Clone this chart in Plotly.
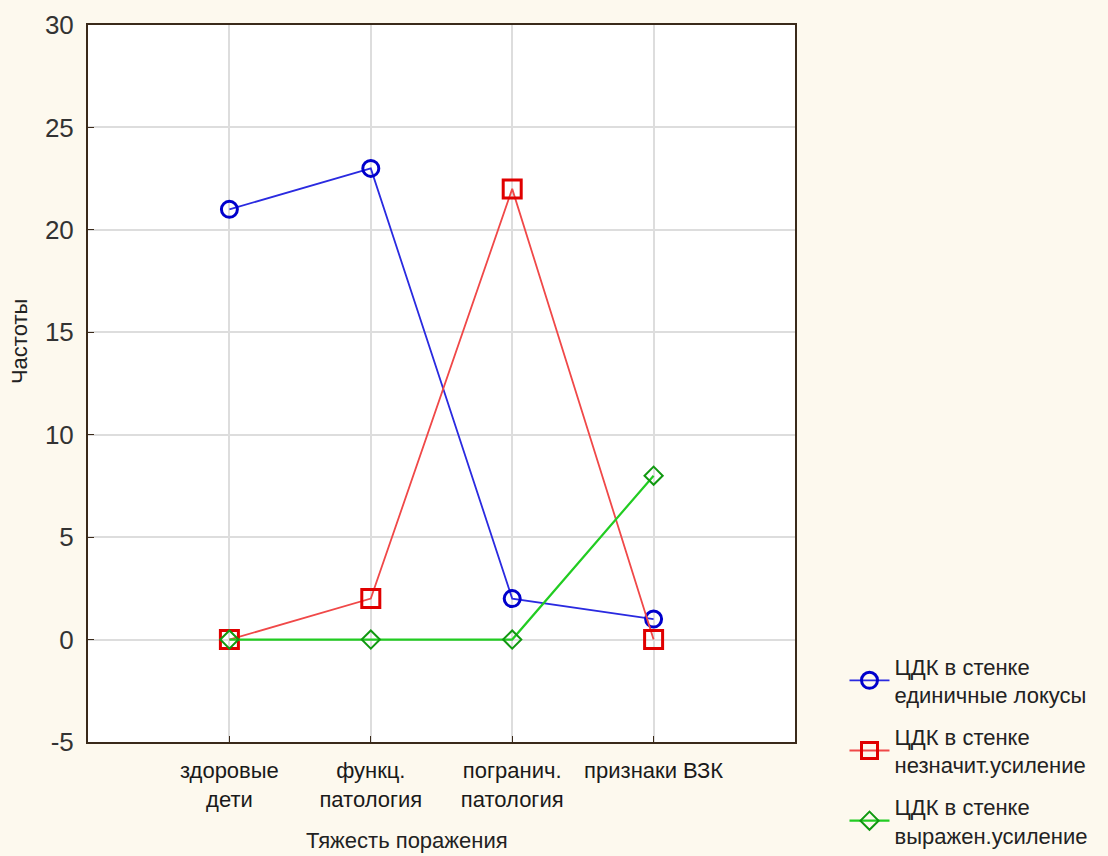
import plotly.graph_objects as go

categories = ["здоровые<br>дети", "функц.<br>патология", "погранич.<br>патология", "признаки ВЗК"]
x_pos = [0, 1, 2, 3]
blue_vals = [21, 23, 2, 1]
red_vals = [0, 2, 22, 0]
green_vals = [0, 0, 0, 8]
names = ["ЦДК в стенке<br>единичные локусы", "ЦДК в стенке<br>незначит.усиление", "ЦДК в стенке<br>выражен.усиление"]
y_ticks = [-5, 0, 5, 10, 15, 20, 25, 30]
y_labels = ["-5", "0", "5", "10", "15", "20", "25", "30"]
x_title = "Тяжесть поражения"
y_title = "Частоты"

FONT = "Arial, Liberation Sans, sans-serif"

fig = go.Figure()
fig.add_trace(go.Scatter(x=x_pos, y=blue_vals, name=names[0], mode="lines+markers",
                         line=dict(color="#2a2ae0", width=1.8), legendgroup="a",
                         marker=dict(symbol="circle-open", size=16, color="#0000cc", line=dict(width=3, color="#0000cc"))))
fig.add_trace(go.Scatter(x=x_pos, y=red_vals, name=names[1], mode="lines+markers",
                         line=dict(color="#f04848", width=1.8), legendgroup="b",
                         marker=dict(symbol="square-open", size=18, color="#e00000", line=dict(width=3, color="#e00000"))))
fig.add_trace(go.Scatter(x=x_pos, y=green_vals, name=names[2], mode="lines+markers",
                         line=dict(color="#22cc22", width=2.2), legendgroup="c",
                         marker=dict(symbol="diamond-open", size=14, color="#119911", line=dict(width=2, color="#119911"))))

fig.update_layout(
    width=1108, height=856,
    paper_bgcolor="#fdf9ee", plot_bgcolor="white",
    margin=dict(l=88, r=313, t=25, b=114, autoexpand=False),
    font=dict(family=FONT, color="#222222"),
    legend=dict(x=1.07, y=0.135, xanchor="left", yanchor="top",
                font=dict(size=22, color="#222222"), tracegroupgap=10,
                bgcolor="rgba(0,0,0,0)", itemwidth=40),
    showlegend=True,
    annotations=[
        dict(text=x_title, xref="paper", yref="paper", x=0.451, y=-0.137,
             xanchor="center", yanchor="middle", showarrow=False, font=dict(size=22, color="#222222")),
        dict(text=y_title, xref="paper", yref="paper", x=-0.096, y=0.558, textangle=-90,
             xanchor="center", yanchor="middle", showarrow=False, font=dict(size=22, color="#222222")),
    ],
)
fig.update_xaxes(range=[-1, 4], tickvals=x_pos, ticktext=categories, automargin=False,
                 tickfont=dict(size=22, color="#1a1a1a"), showgrid=True, gridcolor="#dddddd", gridwidth=1.5,
                 showline=True, linecolor="#3a2a1a", linewidth=2, mirror=True,
                 ticks="inside", ticklen=6, tickcolor="#3a2a1a", zeroline=False, ticklabelstandoff=8)
fig.update_yaxes(range=[-5, 30], tickvals=y_ticks, ticktext=y_labels, tickfont=dict(size=26, color="#333333"),
                 automargin=False, ticklabelstandoff=7,
                 showgrid=True, gridcolor="#dddddd", gridwidth=1.5,
                 showline=True, linecolor="#3a2a1a", linewidth=2, mirror=True,
                 ticks="inside", ticklen=6, tickcolor="#3a2a1a", zeroline=False)

fig.write_html("out.html", config={"displayModeBar": False},
               post_script="document.body.style.margin='0';document.body.style.background='#fdf9ee';")
